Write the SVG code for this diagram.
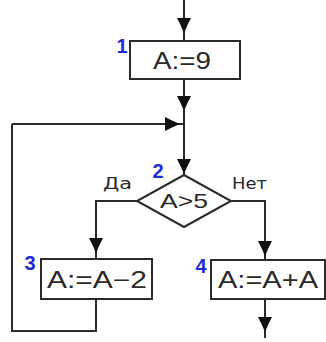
<svg xmlns="http://www.w3.org/2000/svg" xmlns:xlink="http://www.w3.org/1999/xlink" width="326" height="342" viewBox="0 0 326 342">
<style>
.shape{fill:#fff;stroke:#2a2a2a;stroke-width:2}
.wire{fill:none;stroke:#2a2a2a;stroke-width:2}
.ah{fill:#111}
.t{font-family:"Liberation Sans",Arial,sans-serif;fill:#2a2a2a}
.lbl{font-family:"DejaVu Sans","Liberation Sans",sans-serif;fill:#2a2a2a}
.num{font-family:"Liberation Sans",Arial,sans-serif;font-weight:bold;fill:#1f2bd6}
</style>
<defs>
<path id="ah" class="ah" d="M0,0 L-8,-3.5 L-15,-7 L-15,7 L-8,3.5 Z"/>
</defs>
<rect width="326" height="342" fill="#fff"/>
<g id="connectors">
<path class="wire" d="M184,0 V41"/>
<path class="wire" d="M184,79 V175"/>
<path class="wire" d="M12,124 H184"/>
<path class="wire" d="M137,201 H96 V259"/>
<path class="wire" d="M231,201 H265 V260"/>
<path class="wire" d="M96,299 V331 H12 V124"/>
<path class="wire" d="M265,299 V338"/>
<use xlink:href="#ah" transform="translate(184,33) rotate(90)"/>
<use xlink:href="#ah" transform="translate(184,111) rotate(90)"/>
<use xlink:href="#ah" transform="translate(184,174) rotate(90)"/>
<use xlink:href="#ah" transform="translate(180,124)"/>
<use xlink:href="#ah" transform="translate(96,253) rotate(90)"/>
<use xlink:href="#ah" transform="translate(265,256) rotate(90)"/>
<use xlink:href="#ah" transform="translate(265,332) rotate(90)"/>
</g>
<g id="node1">
<rect class="shape" x="130" y="41" width="110" height="38"/>
<text class="t" x="182" y="69" font-size="23" text-anchor="middle" textLength="58" lengthAdjust="spacingAndGlyphs">A:=9</text>
<text class="num" x="122" y="53" font-size="20" text-anchor="middle">1</text>
</g>
<g id="node2">
<polygon class="shape" points="184,175 231,201 184,227 137,201"/>
<text class="t" x="184" y="208" font-size="21" text-anchor="middle" textLength="48" lengthAdjust="spacingAndGlyphs">A&gt;5</text>
<text class="num" x="158" y="178" font-size="20" text-anchor="middle">2</text>
<text class="lbl" x="117.5" y="189" font-size="16" text-anchor="middle" textLength="29" lengthAdjust="spacingAndGlyphs">Да</text>
<text class="lbl" x="249.5" y="189" font-size="16" text-anchor="middle" textLength="35" lengthAdjust="spacingAndGlyphs">Нет</text>
</g>
<g id="node3">
<rect class="shape" x="41" y="259" width="111" height="40"/>
<text class="t" x="97" y="288" font-size="23" text-anchor="middle" textLength="100" lengthAdjust="spacingAndGlyphs">A:=A−2</text>
<text class="num" x="30" y="270" font-size="20" text-anchor="middle">3</text>
</g>
<g id="node4">
<rect class="shape" x="211" y="260" width="114" height="39"/>
<text class="t" x="268" y="288" font-size="23" text-anchor="middle" textLength="100" lengthAdjust="spacingAndGlyphs">A:=A+A</text>
<text class="num" x="201" y="273" font-size="20" text-anchor="middle">4</text>
</g>
</svg>
